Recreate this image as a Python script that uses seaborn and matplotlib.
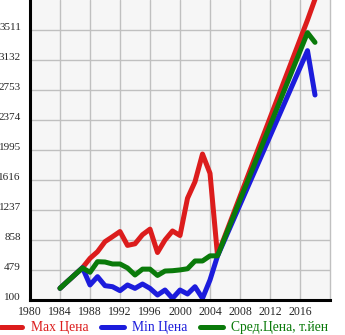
import matplotlib
matplotlib.use("Agg")
import matplotlib.pyplot as plt
from matplotlib.lines import Line2D
from matplotlib.ticker import FixedLocator
import seaborn as sns
import pandas as pd

# Price history by model year (thousand yen)
years = [1984, 1985, 1986, 1987, 1988, 1989, 1990, 1991, 1992, 1993, 1994, 1995,
         1996, 1997, 1998, 1999, 2000, 2001, 2002, 2003, 2004, 2005, 2017, 2018]
max_price = [248, 335, 421, 508, 626, 710, 837, 900, 965, 790, 810, 925,
             995, 700, 858, 972, 915, 1385, 1594, 1944, 1700, 665, 3637, 3900]
min_price = [248, 335, 421, 508, 290, 395, 281, 268, 218, 290, 247, 302,
             247, 163, 226, 121, 226, 176, 268, 121, 353, 655, 3250, 2690]
avg_price = [248, 335, 421, 505, 450, 584, 580, 555, 555, 505, 416, 490,
             490, 410, 466, 470, 480, 495, 593, 593, 658, 658, 3477, 3355]

series_names = ["Max Цена", "Min Цена", "Сред.Цена, т.йен"]
colors = ["#dc1c1c", "#1c1cdc", "#0a7a0a"]
y_ticks = [100, 479, 858, 1237, 1616, 1995, 2374, 2753, 3132, 3511]
x_ticks = [1980, 1984, 1988, 1992, 1996, 2000, 2004, 2008, 2012, 2016]

frames = []
for name, vals in zip(series_names, [max_price, min_price, avg_price]):
    frames.append(pd.DataFrame({"year": years, "price": vals, "series": name}))
df = pd.concat(frames, ignore_index=True)

sns.set_style("white")
plt.rcParams["font.family"] = ["Liberation Serif", "DejaVu Serif"]

fig = plt.figure(figsize=(3.45, 3.35), dpi=100)
ax = fig.add_axes([30 / 345, 35 / 335, 300 / 345, 300 / 335])
ax.set_facecolor("#f6f6f6")

sns.lineplot(data=df, x="year", y="price", hue="series", hue_order=series_names,
             palette=colors, linewidth=3.6, legend=False, ax=ax,
             solid_capstyle="round", solid_joinstyle="round", sort=False)

ax.set_xlim(1980, 2020)
ax.set_ylim(100, 3890)
ax.set_xticks(x_ticks)
ax.set_xticklabels([str(t) for t in x_ticks])
ax.xaxis.set_minor_locator(FixedLocator([2020]))
ax.set_yticks(y_ticks)
ax.set_yticklabels([str(t) for t in y_ticks], va="baseline")
ax.tick_params(axis="x", which="major", length=0, pad=4.6, labelsize=8.5)
ax.tick_params(axis="x", which="minor", length=3, width=1.2, color="black")
ax.tick_params(axis="y", length=3, width=1, pad=3.5, labelsize=8, color="black")
ax.set_xlabel("")
ax.set_ylabel("")

ax.grid(True, which="major", color="#c0c0c0", linewidth=1.0)
ax.set_axisbelow(True)
for side in ["left", "bottom"]:
    ax.spines[side].set_color("black")
    ax.spines[side].set_linewidth(2.2)
ax.spines["top"].set_visible(False)
ax.spines["right"].set_color("#c0c0c0")
ax.spines["right"].set_linewidth(1.0)

handles = [Line2D([0], [0], color=c, linewidth=3.6, solid_capstyle="round")
           for c in colors]
fig.legend(handles, series_names, loc="center left", bbox_to_anchor=(0.0, 7 / 335),
           ncol=3, frameon=False, fontsize=9.8, handlelength=1.65,
           handletextpad=0.6, columnspacing=0.95, borderpad=0, borderaxespad=0,
           labelcolor=colors)

fig.savefig("out.png", dpi=100)
